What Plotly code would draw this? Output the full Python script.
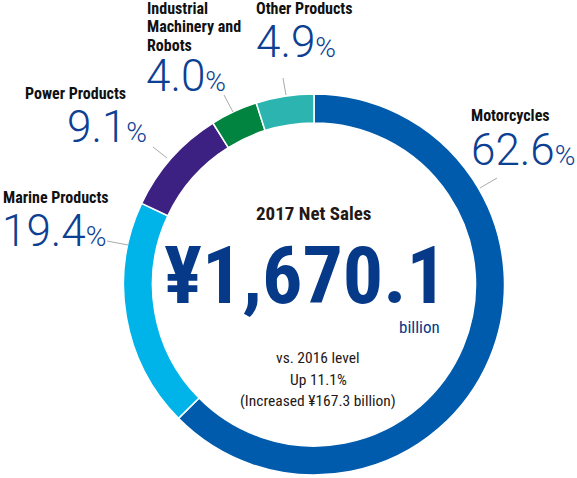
import plotly.graph_objects as go

W, H = 577, 478

segments = ['Motorcycles', 'Marine Products', 'Power Products',
            'Industrial Machinery and Robots', 'Other Products']
shares = [62.6, 19.4, 9.1, 4.0, 4.9]
seg_colors = ['#005BAC', '#00B4EA', '#3C2183', '#00843F', '#2CB5B0']

# label text (with line breaks) and where its first line sits, in pixels from top-left
label_text = ['Motorcycles', 'Marine Products', 'Power Products',
              'Industrial<br>Machinery and<br>Robots', 'Other Products']
label_pos = [(469, 116), (1, 197), (23, 93), (145, 8), (254, 8)]
pct_pos = [(469, 150), (0, 231), (65, 127), (144, 76), (254, 42)]
leaders = [((497, 178), (480, 188)), ((107, 241), (128, 245)),
           ((153, 147), (167, 158)), ((224, 95), (233, 112)),
           ((283, 78), (286, 95))]

total_label = '2017 Net Sales'
total_value = '¥1,670.1'
total_unit = 'billion'
compare_lines = ['vs. 2016 level', 'Up 11.1%', '(Increased ¥167.3 billion)']

NARROW = 'Roboto Condensed, DejaVu Sans Condensed, sans-serif'
LIGHT = 'Roboto, Liberation Sans, sans-serif'
PCT_BLUE = '#0D3F92'
NAVY = '#063A88'
DARK = '#231815'
LINE_STEP = 19


def px(x, y):
    return x / W, 1 - y / H


# ring geometry (pixels)
cx, cy, r_out = 314, 284.5, 190.5
dx0, dy0 = px(cx - r_out, cy + r_out)
dx1, dy1 = px(cx + r_out, cy - r_out)

fig = go.Figure(
    go.Pie(
        labels=segments,
        values=shares,
        hole=0.848,
        sort=False,
        direction='clockwise',
        rotation=0,
        marker=dict(colors=seg_colors, line=dict(color='white', width=1.5)),
        textinfo='none',
        hovertemplate='%{label}: %{value}%<extra></extra>',
        domain=dict(x=[dx0, dx1], y=[dy0, dy1]),
        showlegend=False,
    )
)

annotations = []
for text, (x, y) in zip(label_text, label_pos):
    # one annotation per line so the line spacing can be set
    for k, line in enumerate(text.split('<br>')):
        ax, ay = px(x, y + k * LINE_STEP)
        annotations.append(dict(
            text=line, x=ax, y=ay, xref='paper', yref='paper',
            xanchor='left', yanchor='middle', showarrow=False,
            font=dict(family=NARROW, size=16, color='#111111', weight='bold'),
        ))

for val, (x, y) in zip(shares, pct_pos):
    ax, ay = px(x, y)
    annotations.append(dict(
        text=f'{val:.1f}<span style="font-size:28px">%</span>',
        x=ax, y=ay, xref='paper', yref='paper',
        xanchor='left', yanchor='middle', showarrow=False,
        font=dict(family=LIGHT, size=44, color=PCT_BLUE, weight=300),
    ))

center_items = [
    (total_label, 313, 213, 'center', dict(family=NARROW, size=19, color=DARK, weight='bold')),
    (total_value, 305, 276, 'center', dict(family=NARROW, size=80, color=NAVY, weight='bold')),
    (total_unit, 442, 327, 'right', dict(family=NARROW, size=17, color=NAVY)),
]
for i, line in enumerate(compare_lines):
    center_items.append((line, 318, 358 + 21.5 * i, 'center',
                         dict(family=NARROW, size=15.5, color=DARK)))

for text, x, y, anchor, font in center_items:
    ax, ay = px(x, y)
    annotations.append(dict(
        text=text, x=ax, y=ay, xref='paper', yref='paper',
        xanchor=anchor, yanchor='middle', showarrow=False, font=font,
    ))

shapes = []
for (x0, y0), (x1, y1) in leaders:
    a0, b0 = px(x0, y0)
    a1, b1 = px(x1, y1)
    shapes.append(dict(type='line', xref='paper', yref='paper',
                       x0=a0, y0=b0, x1=a1, y1=b1,
                       line=dict(color='#AAAAAA', width=1)))

fig.update_layout(
    width=W,
    height=H,
    margin=dict(l=0, r=0, t=0, b=0),
    paper_bgcolor='white',
    plot_bgcolor='white',
    annotations=annotations,
    shapes=shapes,
)

# page body has an 8px default margin; drop it so the figure sits at 0,0
fig.write_html('out.html', config=dict(displayModeBar=False),
               post_script="document.body.style.margin='0';")
